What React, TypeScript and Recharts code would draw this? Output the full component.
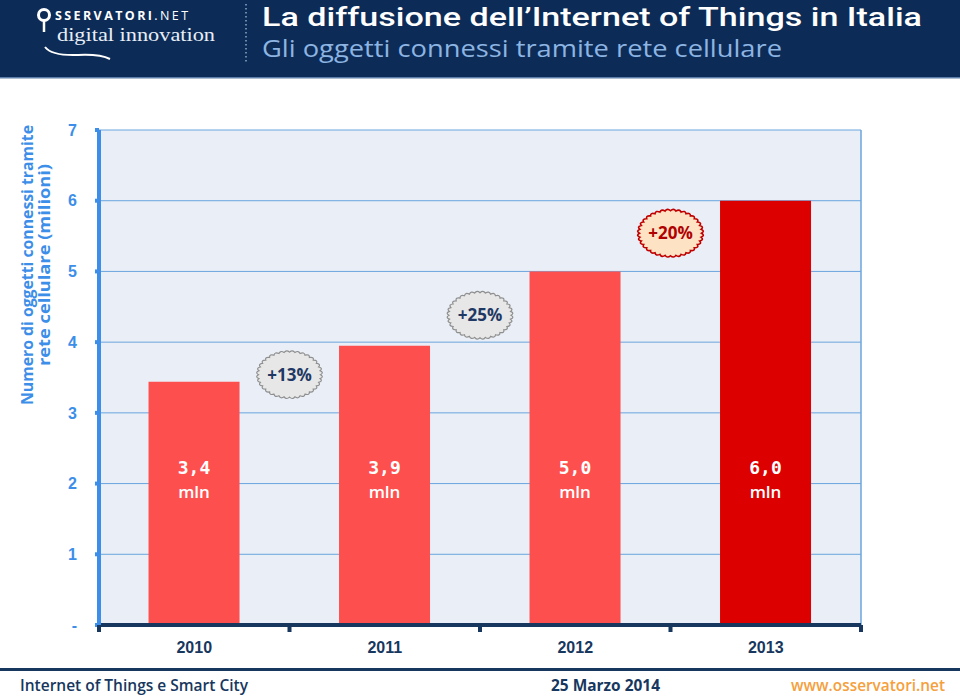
import React from 'react';
import { BarChart, Bar, XAxis, YAxis, CartesianGrid, Cell, LabelList, ReferenceDot, ReferenceLine } from 'recharts';

const years = ['2010', '2011', '2012', '2013'];
const values = [3.44, 3.95, 5.0, 6.0];
const valueLabels = ['3,4', '3,9', '5,0', '6,0'];
const growthLabels = ['+13%', '+25%', '+20%'];
const growthY = [3.54, 4.38, 5.54];
const yTicks = [0, 1, 2, 3, 4, 5, 6, 7];
const xBoundaryTicks = [0, 0.5, 1, 1.5, 2, 2.5, 3, 3.5, 4];

const barColors = ['#fe4f4f', '#fe4f4f', '#fe4f4f', '#dc0000'];
const NAVY = '#17375e';
const BLUE = '#3c8ee8';

const data = years.map((y, i) => ({ year: y, value: values[i], label: valueLabels[i] }));

function scallopPath(cx: number, cy: number, rx: number, ry: number, n: number) {
  let d = '';
  for (let k = 0; k <= n; k++) {
    const a = (2 * Math.PI * k) / n;
    const px = cx + rx * Math.cos(a);
    const py = cy + ry * Math.sin(a);
    if (k === 0) {
      d += `M${px.toFixed(2)},${py.toFixed(2)}`;
    } else {
      const m = (2 * Math.PI * (k - 0.5)) / n;
      const qx = cx + rx * 1.13 * Math.cos(m);
      const qy = cy + ry * 1.13 * Math.sin(m);
      d += ` Q${qx.toFixed(2)},${qy.toFixed(2)} ${px.toFixed(2)},${py.toFixed(2)}`;
    }
  }
  return d + ' Z';
}

const Badge = (props: any) => {
  const { cx, cy, text, red } = props;
  if (cx == null || cy == null) return null;
  return (
    <g>
      <path
        d={scallopPath(cx, cy, 31, 22.5, 36)}
        fill={red ? '#fde2c3' : '#e7e7e7'}
        stroke={red ? '#c00000' : '#8f8f8f'}
        strokeWidth={red ? 1.6 : 1.2}
      />
      <text
        x={cx}
        y={cy + 6}
        textAnchor="middle"
        fontFamily="'Open Sans', sans-serif"
        fontWeight="bold"
        fontSize={17}
        fill={red ? '#b00000' : '#1f3864'}
      >
        {text}
      </text>
    </g>
  );
};

const XTick = (props: any) => {
  const { x, y, payload } = props;
  const v = payload.value as number;
  if (Number.isInteger(v)) {
    return <rect x={x - 2} y={y} width={4} height={7} fill={NAVY} />;
  }
  return (
    <text
      x={x}
      y={y + 28}
      textAnchor="middle"
      fontFamily="'Liberation Sans', Arial, sans-serif"
      fontWeight="bold"
      fontSize={16}
      fill={NAVY}
    >
      {years[Math.floor(v)]}
    </text>
  );
};

const ValueLabel = (props: any) => {
  const { x, y, width, height, value } = props;
  const cx = x + width / 2;
  const bottom = y + height;
  return (
    <g>
      <text x={cx} y={bottom - 151} textAnchor="middle" fill="#fff" fontFamily="'DejaVu Sans Mono', monospace" fontWeight="bold" fontSize={18}>
        {value}
      </text>
      <text x={cx} y={bottom - 127} textAnchor="middle" fill="#fff" fontFamily="'Open Sans', sans-serif" fontWeight={600} fontSize={17}>
        mln
      </text>
    </g>
  );
};

export default function App() {
  return (
    <div style={{ position: 'absolute', left: 0, top: 0, width: 960, height: 697, background: '#fff', overflow: 'hidden' }}>
      <BarChart
        width={960}
        height={697}
        data={data}
        margin={{ top: 130, right: 99, bottom: 42, left: 0 }}
        barCategoryGap="26%"
      >
        <CartesianGrid vertical={false} stroke="#6aa5dd" strokeWidth={1} fill="#e9eef7" />
        <XAxis
          xAxisId="num"
          type="number"
          dataKey="value"
          domain={[0, 4]}
          allowDataOverflow
          ticks={xBoundaryTicks}
          interval={0}
          axisLine={{ stroke: NAVY, strokeWidth: 4 }}
          tickLine={false}
          tickSize={0}
          tickMargin={0}
          tick={<XTick />}
          height={30}
        />
        <XAxis dataKey="year" hide height={0} />
        <YAxis
          domain={[0, 7]}
          ticks={yTicks}
          interval={0}
          width={99}
          axisLine={{ stroke: BLUE, strokeWidth: 4 }}
          tickLine={{ stroke: BLUE, strokeWidth: 4 }}
          tickSize={4}
          tickMargin={18}
          tickFormatter={(v: number) => (v === 0 ? '-' : String(v))}
          tick={{ fill: BLUE, fontFamily: "'Liberation Sans', Arial, sans-serif", fontWeight: 'bold', fontSize: 16 }}
        />
        <ReferenceLine xAxisId="num" x={4} stroke="#6aa5dd" strokeWidth={1.5} ifOverflow="visible" />
        <Bar dataKey="value" isAnimationActive={false}>
          {data.map((d, i) => (
            <Cell key={d.year} fill={barColors[i]} />
          ))}
          <LabelList dataKey="label" content={<ValueLabel />} />
        </Bar>
        {growthLabels.map((g, i) => (
          <ReferenceDot
            key={g}
            xAxisId="num"
            x={i + 1}
            y={growthY[i]}
            r={30}
            ifOverflow="visible"
            shape={(p: any) => <Badge cx={p.cx} cy={p.cy} text={g} red={i === 2} />}
          />
        ))}
      </BarChart>

      <svg width={960} height={697} style={{ position: 'absolute', left: 0, top: 0, pointerEvents: 'none' }}>
        {/* header */}
        <rect x={0} y={0} width={960} height={77} fill="#0c2c57" />
        <rect x={0} y={77} width={960} height={1.5} fill="#5d7ea8" />
        {/* logo */}
        <circle cx={44} cy={15} r={5.5} fill="none" stroke="#fff" strokeWidth={3} />
        <line x1={44} y1={21} x2={44} y2={32} stroke="#fff" strokeWidth={2.5} />
        <text x={55} y={20} fill="#fff" fontFamily="'Open Sans', sans-serif" fontSize={12.5} letterSpacing={2.4}>
          <tspan fontWeight="bold">SSERVATORI</tspan>
          <tspan>.NET</tspan>
        </text>
        <text x={57} y={41} fill="#e8eef7" fontFamily="'Liberation Serif', serif" fontSize={19} textLength={158} lengthAdjust="spacingAndGlyphs">digital innovation</text>
        <path d="M45 47 Q52 56 78 55 Q100 54 110 59" fill="none" stroke="#fff" strokeWidth={2} />
        <line x1={246} y1={4} x2={246} y2={62} stroke="#8ea6c6" strokeWidth={1.5} strokeDasharray="1.5 2.5" />
        <text x={262} y={25.5} fill="#fff" fontFamily="Roboto, 'Open Sans', sans-serif" fontWeight={500} fontSize={26} textLength={660} lengthAdjust="spacingAndGlyphs">La diffusione dell’Internet of Things in Italia</text>
        <text x={262} y={57} fill="#8db4e2" fontFamily="'Open Sans', sans-serif" fontSize={24} textLength={520} lengthAdjust="spacingAndGlyphs">Gli oggetti connessi tramite rete cellulare</text>

        {/* y axis title */}
        <g transform="translate(33,265) rotate(-90)">
          <text x={0} y={0} textAnchor="middle" fill={BLUE} fontFamily="'Open Sans', sans-serif" fontWeight="bold" fontSize={16.5} textLength={280} lengthAdjust="spacingAndGlyphs">Numero di oggetti connessi tramite</text>
        </g>
        <g transform="translate(50,265) rotate(-90)">
          <text x={0} y={0} textAnchor="middle" fill={BLUE} fontFamily="'Open Sans', sans-serif" fontWeight="bold" fontSize={16.5} textLength={202} lengthAdjust="spacingAndGlyphs">rete cellulare (milioni)</text>
        </g>

        {/* footer */}
        <rect x={0} y={668} width={960} height={3} fill={NAVY} />
        <text x={20} y={691} fill={NAVY} fontFamily="'Open Sans', sans-serif" fontWeight={600} fontSize={16.5} textLength={228} lengthAdjust="spacingAndGlyphs">Internet of Things e Smart City</text>
        <text x={551} y={691} fill={NAVY} fontFamily="'Open Sans', sans-serif" fontWeight={700} fontSize={16.5} textLength={109} lengthAdjust="spacingAndGlyphs">25 Marzo 2014</text>
        <text x={791} y={691} fill="#f5a03c" fontFamily="'Open Sans', sans-serif" fontWeight={600} fontSize={16.5} textLength={154} lengthAdjust="spacingAndGlyphs">www.osservatori.net</text>
      </svg>
    </div>
  );
}
